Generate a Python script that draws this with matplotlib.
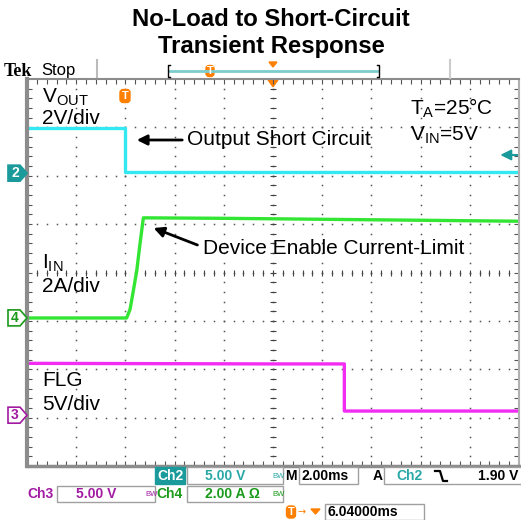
import numpy as np
import matplotlib
matplotlib.use("Agg")
import matplotlib.pyplot as plt
from matplotlib.patches import Rectangle, Polygon, FancyBboxPatch

plt.rcParams["font.family"] = ["Liberation Sans", "DejaVu Sans"]
plt.rcParams["mathtext.fontset"] = "custom"
plt.rcParams["mathtext.rm"] = "Liberation Sans"
plt.rcParams["mathtext.it"] = "Liberation Sans"

# --- scope settings (time in ms, 2 ms/div, trigger at centre) ---
t_div = 2.0
ch2_scale, ch2_pos = 5.0, 6.05   # V/div, ground level in divisions
ch4_scale, ch4_pos = 2.0, 3.06   # A/div
ch3_scale, ch3_pos = 5.0, 1.05   # V/div
trig_level = 1.90

# --- traces ---
vout_t = [-10.0, -6.0, -6.0, 10.0]
vout_v = [4.65, 4.65, 0.10, 0.10]

iin_t = [-10.0, -5.95, -5.81, -5.68, -5.54, -5.41, -5.27, -2.0, 4.0, 10.0]
iin_a = [0.0, 0.0, 0.36, 1.11, 1.94, 3.04, 4.14, 4.12, 4.06, 4.0]

flg_t = [-10.0, 0.0, 2.9, 2.9, 10.0]
flg_v = [5.36, 5.30, 5.30, 0.43, 0.43]

CYAN = "#33e8f0"
GREEN = "#33e633"
MAGENTA = "#f22cf2"
TEAL = "#1a9a9a"
TEAL_TXT = "#2aa8a8"
GREEN_TXT = "#1a9a1a"
MAG_TXT = "#a21aa2"
ORANGE = "#ff8000"

W, H = 521, 520
fig = plt.figure(figsize=(W / 100, H / 100), dpi=100)


def fx(x):
    return x / W


def fy(y):
    return 1 - y / H


ax = fig.add_axes([fx(27), fy(466), 492 / W, 387 / H])
ax.set_xlim(-10, 10)
ax.set_ylim(0, 8)
ax.set_xticks([])
ax.set_yticks([])
for s in ax.spines.values():
    s.set_color("#8c8c8c")
    s.set_linewidth(1.5)
ax.spines["left"].set_linewidth(3)
ax.spines["bottom"].set_linewidth(2.5)
ax.spines["right"].set_color("#b0b0b0")

# graticule
for k in range(1, 10):
    x = -10 + k * t_div
    ys = np.arange(0.2, 8, 0.2)
    ax.plot([x] * len(ys), ys, ls="none", marker="s", ms=1.1, color="#555555", mew=0)
for k in range(1, 8):
    xs = np.arange(-9.6, 10, 0.4)
    ax.plot(xs, [k] * len(xs), ls="none", marker="s", ms=1.1, color="#555555", mew=0)
# centre lines with tick marks
xs = np.arange(-9.6, 10, 0.4)
ax.plot(xs, [4] * len(xs), ls="none", marker="|", ms=4, color="#444444", mew=0.8)
ys = np.arange(0.2, 8, 0.2)
ax.plot([0] * len(ys), ys, ls="none", marker="_", ms=4, color="#444444", mew=0.8)
# edge ticks
ax.plot(xs, [0.04] * len(xs), ls="none", marker="|", ms=4, color="#555555", mew=0.8)
ax.plot(xs, [7.96] * len(xs), ls="none", marker="|", ms=4, color="#555555", mew=0.8)
ax.plot([-9.93] * len(ys), ys, ls="none", marker="_", ms=4, color="#555555", mew=0.8)
ax.plot([9.93] * len(ys), ys, ls="none", marker="_", ms=4, color="#555555", mew=0.8)

# traces
ax.plot(vout_t, ch2_pos + np.array(vout_v) / ch2_scale, color=CYAN, lw=2.4)
ax.plot(iin_t, ch4_pos + np.array(iin_a) / ch4_scale, color=GREEN, lw=2.4)
ax.plot(flg_t, ch3_pos + np.array(flg_v) / ch3_scale, color=MAGENTA, lw=2.4)

# trigger level marker (right edge)
ty = ch2_pos + trig_level / ch2_scale
ax.add_patch(Polygon([[9.3, ty], [9.7, ty + 0.1], [9.7, ty - 0.1]], closed=True,
                     color=TEAL, clip_on=False))
ax.plot([9.6, 10.0], [ty, ty], color=TEAL, lw=1.5, clip_on=False)

# trigger time marker (top)
ax.add_patch(Polygon([[-0.2, 7.98], [0.2, 7.98], [0, 7.84]], closed=True,
                     color=ORANGE, clip_on=False))

# labels inside screen
fs = 15
fig.text(fx(42), fy(97), r"V$_{\mathrm{OUT}}$", fontsize=fs, va="center")
fig.text(fx(42), fy(119), "2V/div", fontsize=fs, va="center")
fig.text(fx(42), fy(263), r"I$_{\mathrm{IN}}$", fontsize=fs, va="center")
fig.text(fx(42), fy(286), "2A/div", fontsize=fs, va="center")
fig.text(fx(42), fy(381), "FLG", fontsize=fs, va="center")
fig.text(fx(42), fy(404), "5V/div", fontsize=fs, va="center")
fig.text(fx(410), fy(108), r"T$_{\mathrm{A}}$=25°C", fontsize=fs, va="center")
fig.text(fx(410), fy(135), r"V$_{\mathrm{IN}}$=5V", fontsize=fs, va="center")
fig.text(fx(187), fy(140), "Output Short Circuit", fontsize=fs, va="center")
fig.text(fx(203), fy(248), "Device Enable Current-Limit", fontsize=fs, va="center")

fig.add_artist(matplotlib.patches.FancyArrowPatch(
    (fx(185), fy(140)), (fx(134), fy(140)), transform=fig.transFigure,
    arrowstyle="-|>,head_length=6,head_width=3", color="black", lw=2))
fig.add_artist(matplotlib.patches.FancyArrowPatch(
    (fx(200), fy(246)), (fx(151), fy(227)), transform=fig.transFigure,
    arrowstyle="-|>,head_length=6,head_width=3", color="black", lw=2))


def t_marker(x, y, w=10, h=13):
    fig.add_artist(FancyBboxPatch((fx(x - w / 2), fy(y + h / 2)), w / W, h / H,
                                  boxstyle="round,pad=0,rounding_size=0.006",
                                  transform=fig.transFigure, color=ORANGE))
    fig.text(fx(x), fy(y), "T", color="white", fontsize=8, fontweight="bold",
             ha="center", va="center")


t_marker(125, 96)
t_marker(210, 71, 8, 11)

# channel markers on left
def ch_marker(y, label, color, filled):
    pts = [[fx(8), fy(y - 8)], [fx(20), fy(y - 8)], [fx(27), fy(y)],
           [fx(20), fy(y + 8)], [fx(8), fy(y + 8)]]
    fig.add_artist(Polygon(pts, closed=True, transform=fig.transFigure,
                           facecolor=color if filled else "white",
                           edgecolor=color, lw=1.2))
    fig.text(fx(15), fy(y), label, color="white" if filled else color,
             fontsize=10, fontweight="bold", ha="center", va="center")


ch_marker(466 - ch2_pos * 48.4, "2", TEAL, True)
ch_marker(466 - ch4_pos * 48.4, "4", GREEN_TXT, False)
ch_marker(466 - ch3_pos * 48.4, "3", MAG_TXT, False)

# title
fig.text(fx(271), fy(20), "No-Load to Short-Circuit", fontsize=17.2,
         fontweight="bold", ha="center", va="center")
fig.text(fx(271), fy(46), "Transient Response", fontsize=17.2,
         fontweight="bold", ha="center", va="center")

# header bar
fig.text(fx(4), fy(71), "Tek", fontsize=13, fontweight="bold",
         family="Liberation Serif", va="center")
fig.text(fx(41), fy(70), "Stop", fontsize=12, va="center")
fig.add_artist(plt.Line2D([fx(97), fx(97)], [fy(60), fy(77)], color="#bbbbbb", lw=1.5))
fig.add_artist(plt.Line2D([fx(450), fx(450)], [fy(60), fy(78)], color="#cccccc", lw=1.5))
fig.add_artist(plt.Line2D([fx(169), fx(378)], [fy(71), fy(71)], color="#7ccccc", lw=2))
fig.add_artist(plt.Line2D([fx(170), fx(168), fx(168), fx(170)],
                          [fy(65), fy(65), fy(77), fy(77)], color="black", lw=1))
fig.add_artist(plt.Line2D([fx(377), fx(379), fx(379), fx(377)],
                          [fy(65), fy(65), fy(77), fy(77)], color="black", lw=1))
fig.add_artist(Polygon([[fx(269), fy(62)], [fx(277), fy(62)], [fx(273), fy(67)]],
                       closed=True, transform=fig.transFigure, color=ORANGE))

# status area
def box(x0, x1, y0, y1, fc="white", ec="#a0a0a0"):
    fig.add_artist(Rectangle((fx(x0), fy(y1)), (x1 - x0) / W, (y1 - y0) / H,
                             transform=fig.transFigure, facecolor=fc,
                             edgecolor=ec, lw=1))


sfs = 10
box(155, 185, 467, 484, fc=TEAL, ec=TEAL)
fig.text(fx(170), fy(476), "Ch2", color="white", fontsize=sfs, fontweight="bold",
         ha="center", va="center")
box(187, 283, 467, 484)
fig.text(fx(205), fy(476), "5.00 V", color=TEAL_TXT, fontsize=sfs,
         fontweight="bold", va="center")
fig.text(fx(272), fy(476), "BW", color=TEAL_TXT, fontsize=5.5, va="center")
fig.text(fx(285), fy(476), "M", fontsize=sfs, fontweight="bold", va="center")
box(299, 358, 467, 484)
fig.text(fx(302), fy(476), "2.00ms", fontsize=sfs, fontweight="bold", va="center")
fig.text(fx(373), fy(476), "A", fontsize=sfs, fontweight="bold", va="center")
box(384, 523, 467, 484)
fig.text(fx(396), fy(476), "Ch2", color=TEAL_TXT, fontsize=sfs, fontweight="bold",
         va="center")
# falling-edge trigger symbol
fig.add_artist(plt.Line2D([fx(435), fx(440), fx(443), fx(447)],
                          [fy(471), fy(471), fy(481), fy(481)],
                          color="black", lw=1.6))
fig.text(fx(518), fy(476), "1.90 V", fontsize=sfs, fontweight="bold",
         ha="right", va="center")

fig.text(fx(27), fy(494), "Ch3", color=MAG_TXT, fontsize=sfs, fontweight="bold",
         va="center")
box(57, 155, 486, 502)
fig.text(fx(76), fy(494), "5.00 V", color=MAG_TXT, fontsize=sfs,
         fontweight="bold", va="center")
fig.text(fx(145), fy(494), "BW", color=MAG_TXT, fontsize=5.5, va="center")
fig.text(fx(156), fy(494), "Ch4", color=GREEN_TXT, fontsize=sfs,
         fontweight="bold", va="center")
box(187, 283, 486, 502)
fig.text(fx(205), fy(494), "2.00 A \u03a9", color=GREEN_TXT, fontsize=sfs,
         fontweight="bold", va="center")
fig.text(fx(272), fy(494), "BW", color=GREEN_TXT, fontsize=5.5, va="center")

t_marker(291, 512, 9, 12)
fig.text(fx(298), fy(512), "\u2192", color=ORANGE, fontsize=7, va="center",
         family="DejaVu Sans")
fig.add_artist(Polygon([[fx(311), fy(509)], [fx(320), fy(509)], [fx(315.5), fy(514)]],
                       closed=True, transform=fig.transFigure, color=ORANGE))
box(325, 424, 504, 520)
fig.text(fx(328), fy(512), "6.04000ms", fontsize=sfs, fontweight="bold",
         va="center")

fig.savefig("out.png", dpi=100)
